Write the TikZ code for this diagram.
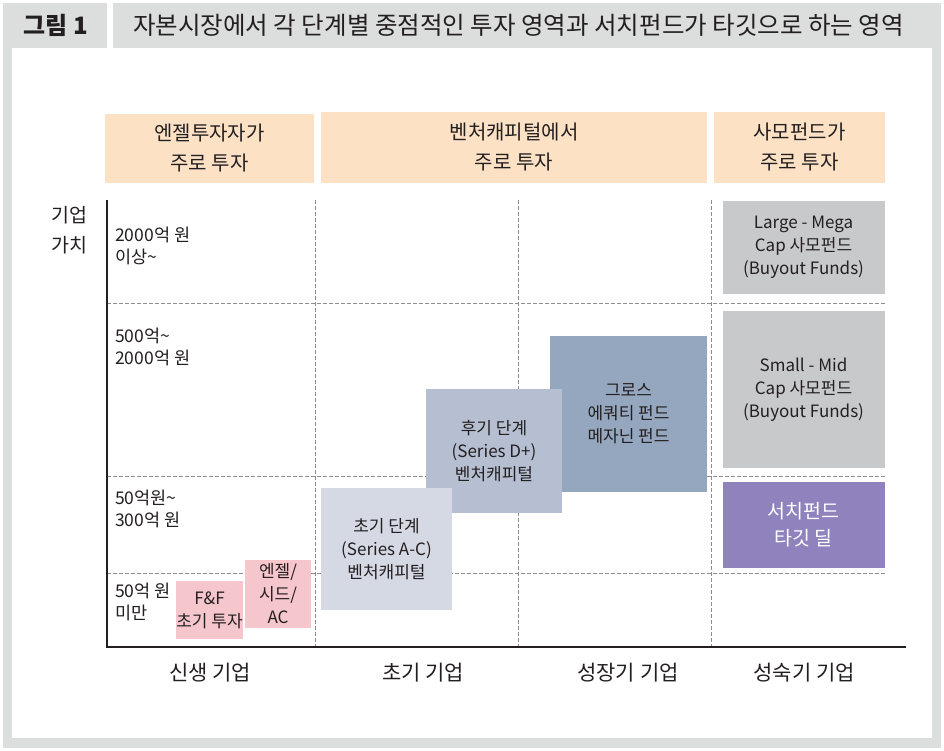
\documentclass[tikz,border=0pt]{standalone}
\usepackage{fontspec}
\setmainfont{Noto Sans CJK KR}
\usepackage{xcolor}
\usepackage{tikz}

\definecolor{framegray}{HTML}{DCDEDD}
\definecolor{inkblack}{HTML}{231F20}
\definecolor{gridgray}{HTML}{8E8E8E}
\definecolor{hdrorange}{HTML}{FCE1C5}
\definecolor{pegray}{HTML}{C8C9CB}
\definecolor{growthblue}{HTML}{95A7BF}
\definecolor{lateblue}{HTML}{B5BFD1}
\definecolor{earlyblue}{HTML}{D5D9E4}
\definecolor{searchpurple}{HTML}{9083BD}
\definecolor{seedpink}{HTML}{F5C6CB}

\begin{document}
\begin{tikzpicture}[x=1pt, y=-1pt,
  hdr/.style={fill=hdrorange, inner sep=0pt, align=center, text=inkblack,
              font=\fontsize{20}{30}\selectfont},
  fund/.style={inner sep=0pt, align=center, text=inkblack,
               font=\fontsize{17}{23}\selectfont},
  ylab/.style={anchor=west, align=left, inner sep=0pt, text=inkblack,
               font=\fontsize{17.5}{22.5}\selectfont},
  xlab/.style={inner sep=0pt, text=inkblack, font=\fontsize{21}{24}\selectfont},
  gridline/.style={draw=gridgray, line width=0.9pt, dash pattern=on 4pt off 2pt},
  axisline/.style={draw=inkblack, line width=1.2pt},
]

% Cadre
\useasboundingbox[fill=white] (0,0) rectangle (944,751);
\fill[framegray] (3,3) rectangle (941,748);
\fill[white] (12,48) rectangle (932,738);
\fill[white] (107,3) rectangle (113,48);
\node[font=\fontsize{24}{26}\bfseries, text=inkblack] (fig) at (56,25) {그림 1};
\node[anchor=west, inner sep=0pt, font=\fontsize{24.5}{26}\selectfont, text=inkblack]
  (title) at (133,25) {자본시장에서 각 단계별 중점적인 투자 영역과 서치펀드가 타깃으로 하는 영역};

% En-têtes
\node[hdr, minimum width=209pt, minimum height=69pt] (hdrangel) at (209.5,148.5) {엔젤투자자가\\주로 투자};
\node[hdr, minimum width=386pt, minimum height=71pt] (hdrvc)    at (514,147.5)   {벤처캐피털에서\\주로 투자};
\node[hdr, minimum width=171pt, minimum height=71pt] (hdrpe)    at (799.5,147.5) {사모펀드가\\주로 투자};

% Grille
\foreach \gx in {315,518,711}
  \draw[gridline] (\gx,200) -- (\gx,647);
\foreach \gy in {303,476,573}
  \draw[gridline] (107,\gy) -- (885,\gy);

% Boîtes
\node[fund, fill=growthblue, minimum width=157pt, minimum height=156pt] (growth) at (628.5,414) {그로스\\에쿼티 펀드\\메자닌 펀드};
\node[fund, fill=lateblue,   minimum width=136pt, minimum height=124pt] (late)   at (494,451)   {후기 단계\\(Series D+)\\벤처캐피털};
\node[fund, fill=earlyblue,  minimum width=131pt, minimum height=122pt] (early)  at (386.5,549) {초기 단계\\(Series A-C)\\벤처캐피털};
\node[fund, fill=seedpink,   minimum width=66pt,  minimum height=68pt]  (angel)  at (278,594)   {엔젤/\\시드/\\AC};
\node[fund, fill=seedpink,   minimum width=67pt,  minimum height=58pt]  (ff)     at (209.5,610) {F\&F\\초기 투자};
\node[fund, fill=pegray,     minimum width=162pt, minimum height=93pt]  (large)  at (803.5,247.5) {Large - Mega\\Cap 사모펀드\\(Buyout Funds)};
\node[fund, fill=pegray,     minimum width=162pt, minimum height=157pt] (small)  at (803.5,389.5) {Small - Mid\\Cap 사모펀드\\(Buyout Funds)};
\node[fund, fill=searchpurple, text=white, minimum width=162pt, minimum height=86pt,
      font=\fontsize{19.5}{27}\selectfont] (search) at (803.5,525) {서치펀드\\타깃 딜};

% Axes
\coordinate (ytop) at (107,200);
\coordinate (xend) at (906,647);
\draw[axisline] (ytop) |- (xend);

% Étiquettes
\node[font=\fontsize{19.5}{30}\selectfont, align=center, inner sep=0pt, text=inkblack] (value) at (69,230) {기업\\가치};
\node[ylab] (v1) at (115,246) {2000억 원\\이상\textasciitilde};
\node[ylab] (v2) at (115,347) {500억\textasciitilde\\2000억 원};
\node[ylab] (v3) at (115,509) {50억원\textasciitilde\\300억 원};
\node[ylab] (v4) at (115,602) {50억 원\\미만};
\node[xlab] (s1) at (210,673) {신생 기업};
\node[xlab] (s2) at (423,673) {초기 기업};
\node[xlab] (s3) at (628,673) {성장기 기업};
\node[xlab] (s4) at (804,673) {성숙기 기업};

\end{tikzpicture}
\end{document}
